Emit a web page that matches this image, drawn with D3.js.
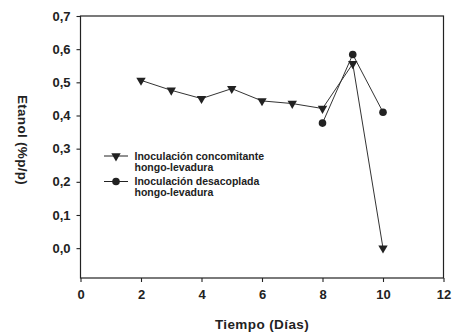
<!DOCTYPE html>
<html><head><meta charset="utf-8">
<script src="https://cdn.jsdelivr.net/npm/d3@7"></script>
<style>body{margin:0;background:#fff}svg{display:block}text{font-family:"Liberation Sans",Arial,sans-serif;font-weight:bold;fill:#222}</style>
</head><body><svg id="c" width="466" height="336"></svg>
<script>
const days = [2,3,4,5,6,7,8,9,10];
const concomitante = [0.506,0.476,0.451,0.481,0.444,0.436,0.421,0.556,0.0];
const daysDes = [8,9,10];
const desacoplada = [0.377,0.584,0.41];
const xTicks = [0,2,4,6,8,10,12];
const yTicks = [0,0.1,0.2,0.3,0.4,0.5,0.6,0.7];
const seriesNames = ["Inoculación concomitante","hongo-levadura","Inoculación desacoplada","hongo-levadura"];

const svg = d3.select("#c");
const L=80.5,R=443.5,T=16,B=278;
const x = d3.scaleLinear().domain([0,12]).range([L,R]);
const y = d3.scaleLinear().domain([-0.09,0.7]).range([B,T]);
const fmt = d=>d3.format(".1f")(d).replace(".",",");

svg.append("rect").attr("x",L).attr("y",T).attr("width",R-L).attr("height",B-T)
  .attr("fill","none").attr("stroke","#222").attr("stroke-width",1.2);

const xa = svg.append("g").attr("transform",`translate(0,${B})`)
  .call(d3.axisBottom(x).tickValues(xTicks).tickSize(4).tickPadding(8).tickFormat(d3.format("d")));
const ya = svg.append("g").attr("transform",`translate(${L},0)`)
  .call(d3.axisLeft(y).tickValues(yTicks).tickSize(4).tickPadding(6).tickFormat(fmt));
[xa,ya].forEach(a=>{
  a.select(".domain").remove();
  a.selectAll(".tick line").attr("stroke","#222").attr("stroke-width",1.1);
  a.selectAll("text").style("font-size","13px").attr("fill","#222");
});

svg.append("text").attr("x",262).attr("y",329).attr("text-anchor","middle")
  .style("font-size","13.5px").style("letter-spacing","0.4px").text("Tiempo (Días)");
svg.append("text").attr("transform","translate(18,140) rotate(90)").attr("text-anchor","middle")
  .style("font-size","13.5px").style("letter-spacing","0.3px").text("Etanol (%p/p)");

const line = d3.line().x(d=>x(d[0])).y(d=>y(d[1]));
const tri = d3.symbol().type(d3.symbolTriangle).size(38);

const s1 = days.map((d,i)=>[d,concomitante[i]]);
const s2 = daysDes.map((d,i)=>[d,desacoplada[i]]);
svg.append("path").datum(s1).attr("d",line).attr("fill","none").attr("stroke","#333").attr("stroke-width",1);
svg.append("path").datum(s2).attr("d",line).attr("fill","none").attr("stroke","#333").attr("stroke-width",1);
svg.selectAll(".t").data(s1).join("path").attr("d",tri)
  .attr("transform",d=>`translate(${x(d[0])},${y(d[1])}) rotate(180)`).attr("fill","#222");
svg.selectAll(".c").data(s2).join("circle").attr("cx",d=>x(d[0])).attr("cy",d=>y(d[1])).attr("r",3.8).attr("fill","#222");

const lg = svg.append("g");
[[156,"tri"],[181.5,"cir"]].forEach(([ly,k],i)=>{
  lg.append("line").attr("x1",104).attr("x2",128).attr("y1",ly).attr("y2",ly).attr("stroke","#222").attr("stroke-width",1);
  if(k==="tri") lg.append("path").attr("d",tri).attr("transform",`translate(116,${ly}) rotate(180)`).attr("fill","#222");
  else lg.append("circle").attr("cx",116).attr("cy",ly).attr("r",3.8).attr("fill","#222");
  lg.append("text").attr("x",134.5).attr("y",ly+3.5).style("font-size","10.5px").text(seriesNames[i*2]);
  lg.append("text").attr("x",134.5).attr("y",ly+14.5).style("font-size","10.5px").text(seriesNames[i*2+1]);
});
</script></body></html>
